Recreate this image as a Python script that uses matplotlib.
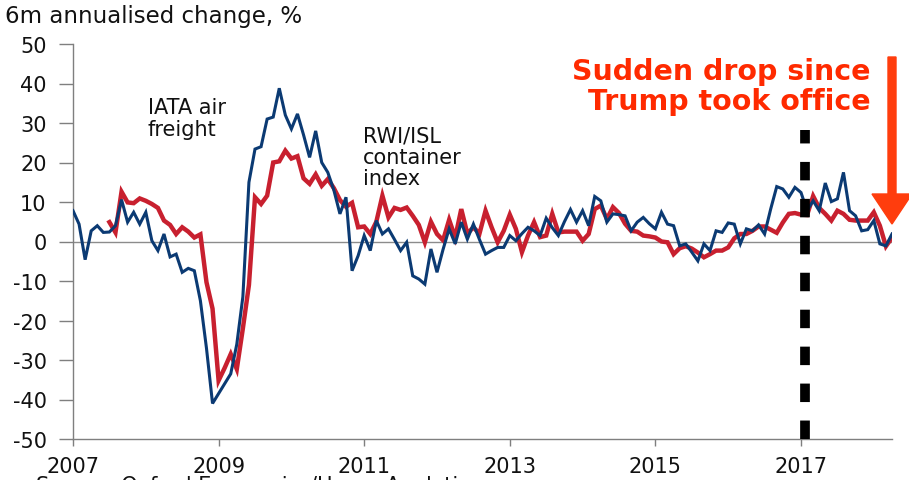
import numpy as np
import matplotlib
matplotlib.use("Agg")
import matplotlib.pyplot as plt
from matplotlib.patches import FancyArrow

plt.rcParams['font.family'] = ['DejaVu Sans']
plt.rcParams['axes.unicode_minus'] = False

# Monthly data, Jan 2007 onwards
start_year = 2007
iata_air = [7.8, 4.4, -4.6, 2.7, 4.0, 2.3, 2.4, 4.0, 10.6, 4.9, 7.4, 4.4,
            7.4, 0.2, -2.3, 1.9, -3.9, -3.2, -7.8, -6.8, -7.4, -15.0, -27.0, -41.0,
            -38.5, -36.0, -33.5, -26.0, -14.0, 15.0, 23.4, 24.0, 31.0, 31.5, 38.8, 32.0,
            28.5, 32.3, 27.0, 21.3, 28.0, 20.0, 17.5, 13.0, 7.0, 11.2, -7.4, -3.6,
            1.5, -2.3, 5.3, 1.9, 3.2, 0.5, -2.3, -0.2, -8.7, -9.5, -10.8, -1.9,
            -7.8, -2.0, 3.2, -0.6, 4.9, 0.6, 4.4, 0.5, -3.2, -2.3, -1.5, -1.5,
            1.5, 0.2, 2.0, 3.6, 2.7, 1.5, 5.9, 3.5, 1.5, 5.0, 8.1, 4.9,
            7.8, 4.0, 11.4, 10.3, 4.9, 7.0, 6.8, 6.5, 2.7, 4.9, 6.1, 4.5,
            3.2, 7.4, 4.4, 4.0, -1.1, -0.6, -2.7, -4.9, -0.6, -2.3, 2.7, 2.3,
            4.7, 4.4, -0.6, 3.2, 2.7, 4.2, 1.9, 8.2, 13.9, 13.3, 11.2, 13.7,
            12.4, 7.8, 10.3, 7.8, 14.8, 10.1, 10.8, 17.5, 7.8, 6.5, 2.7, 3.0,
            5.3, -0.6, -1.1, 1.9]

# container index starts July 2007
container_start = 6
rwi_isl = [4.9, 2.3, 12.6, 9.9, 9.7, 10.9,
           10.3, 9.5, 8.5, 5.3, 4.2, 1.9, 3.6, 2.5, 1.0, 1.8, -10.3, -17.0,
           -35.2, -32.0, -28.5, -32.3, -22.0, -11.0, 11.2, 9.5, 11.6, 20.0, 20.3, 23.0,
           21.0, 21.6, 16.0, 14.6, 17.0, 14.1, 15.8, 13.5, 10.5, 8.8, 9.8, 3.6,
           3.8, 1.9, 5.0, 11.6, 6.1, 8.5, 8.0, 8.6, 6.5, 4.2, -0.2, 5.0,
           1.9, 0.3, 5.5, 1.0, 8.2, 2.0, 3.6, 2.0, 7.8, 3.6, -0.2, 2.7,
           6.8, 3.2, -2.7, 1.5, 4.9, 1.1, 1.5, 7.0, 2.3, 2.5, 2.5, 2.5,
           0.2, 1.9, 8.2, 9.1, 5.7, 8.7, 7.2, 4.5, 2.7, 2.5, 1.5, 1.3,
           1.0, 0.0, -0.2, -3.2, -1.7, -1.2, -1.8, -2.8, -4.0, -3.2, -2.3, -2.3,
           -1.5, 0.8, 1.9, 1.9, 2.7, 3.8, 3.8, 3.0, 2.2, 4.8, 7.0, 7.2,
           6.8, 6.7, 11.5, 8.5, 7.0, 5.3, 7.8, 7.0, 5.5, 5.3, 5.3, 5.3,
           7.4, 4.0, -1.2, 1.0]

year_ticks = [2007, 2009, 2011, 2013, 2015, 2017]
y_ticks = [-50, -40, -30, -20, -10, 0, 10, 20, 30, 40, 50]
trump_inauguration = 2017 + 20 / 365

t_air = start_year + np.arange(len(iata_air)) / 12
t_con = start_year + (container_start + np.arange(len(rwi_isl))) / 12

BLUE = '#0b3a73'
RED = '#c8202f'
ORANGE = '#ff3d0d'
TXT_RED = '#ff2a00'
TXT = '#111111'

fig = plt.figure(figsize=(9.09, 4.81), dpi=100)
ax = fig.add_axes([73 / 909, 1 - 440 / 481, (892 - 73) / 909, (440 - 45) / 481])

ax.axhline(0, color='#8c8c8c', lw=1.0, zorder=1)
ax.plot(t_con, rwi_isl, color=RED, lw=3.2, zorder=3, solid_joinstyle='miter')
ax.plot(t_air, iata_air, color=BLUE, lw=2.2, zorder=4, solid_joinstyle='miter')

ax.axvline(trump_inauguration, ymin=0, ymax=(441 - 132) / 395, color='black',
           lw=7, dashes=(1.9, 1.9), zorder=5)

ax.set_xlim(2007, 2018.25)
ax.set_ylim(-50, 50)
ax.set_xticks(year_ticks)
ax.set_xticklabels([str(y) for y in year_ticks])
ax.set_yticks(y_ticks)
ax.tick_params(axis='y', direction='out', length=10, width=1, color='#7f7f7f',
               labelsize=15, pad=9, labelcolor=TXT)
ax.tick_params(axis='x', direction='out', length=5, width=1, color='#7f7f7f',
               labelsize=15, pad=7, labelcolor=TXT)
for s in ['top', 'right']:
    ax.spines[s].set_visible(False)
for s in ['left', 'bottom']:
    ax.spines[s].set_color('#7f7f7f')
    ax.spines[s].set_linewidth(1.0)

fig.text(5 / 909, 1 - 16 / 481, '6m annualised change, %', fontsize=16.5,
         ha='left', va='center', color=TXT)

ax.text(2008.03, 31.3, 'IATA air\nfreight', fontsize=15, ha='left', va='center',
        linespacing=1.12, color=TXT)
ax.text(2010.98, 21.4, 'RWI/ISL\ncontainer\nindex', fontsize=15, ha='left',
        va='center', linespacing=1.07, color=TXT)

fig.text(871 / 909, 1 - 87 / 481, 'Sudden drop since\nTrump took office',
         fontsize=20.5, fontweight='bold', color=TXT_RED, ha='right', va='center',
         linespacing=1.1)

arrow = FancyArrow(892 / 909, 1 - 58 / 481, 0, -(225 - 58) / 481,
                   width=8 / 909, head_width=40 / 909, head_length=30 / 481,
                   length_includes_head=True, transform=fig.transFigure,
                   color=ORANGE, zorder=10, clip_on=False)
fig.add_artist(arrow)

fig.text(36 / 909, 1 - 486 / 481, 'Source: Oxford Economics/Haver Analytics',
         fontsize=15, ha='left', va='center', color=TXT)

fig.savefig('out.png', dpi=100)
